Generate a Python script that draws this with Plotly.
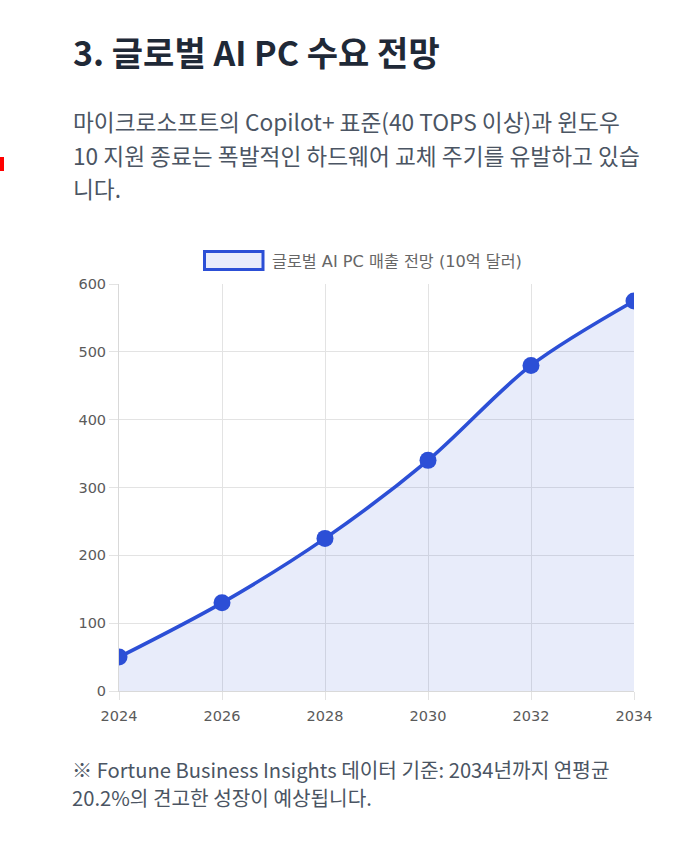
import plotly.graph_objects as go

years = [2024, 2026, 2028, 2030, 2032, 2034]
revenue = [50, 130, 225, 340, 480, 575]
y_ticks = [0, 100, 200, 300, 400, 500, 600]
series_name = "글로벌 AI PC 매출 전망 (10억 달러)"
title_text = "3. 글로벌 AI PC 수요 전망"
para_lines = [
    "마이크로소프트의 Copilot+ 표준(40 TOPS 이상)과 윈도우",
    "10 지원 종료는 폭발적인 하드웨어 교체 주기를 유발하고 있습",
    "니다.",
]
foot_lines = [
    "※ Fortune Business Insights 데이터 기준: 2034년까지 연평균",
    "20.2%의 견고한 성장이 예상됩니다.",
]

W, H = 678, 850
L, R, T, B = 119, 634, 284, 691  # plot area in pixels


def px(x):
    return (x - L) / (R - L)


def py(y):
    return (B - y) / (B - T)


LINE = "#2c4fd6"
FILL = "rgba(44,79,214,0.11)"
GRID = "#e3e3e3"
KFONT = "Noto Sans CJK KR"
TFONT = "DejaVu Sans, Noto Sans CJK KR"

fig = go.Figure()
fig.add_trace(go.Scatter(
    x=years, y=revenue, name=series_name,
    mode="lines+markers",
    line=dict(color=LINE, width=3.6, shape="spline", smoothing=0.9),
    marker=dict(color=LINE, size=17),
    fill="tozeroy", fillcolor=FILL,
    showlegend=False,
))

ann = []
ann.append(dict(text=f"<b>{title_text}</b>", x=px(71), y=py(51), xref="paper", yref="paper",
                xanchor="left", yanchor="middle", showarrow=False,
                font=dict(family=KFONT, size=34, color="#1f2937")))
for t, yy in zip(para_lines, [122, 155, 188]):
    ann.append(dict(text=t, x=px(71), y=py(yy), xref="paper", yref="paper",
                    xanchor="left", yanchor="middle", showarrow=False,
                    font=dict(family=KFONT, size=22.7, color="#4b5563")))
for t, yy in zip(foot_lines, [769, 797]):
    ann.append(dict(text=t, x=px(70), y=py(yy), xref="paper", yref="paper",
                    xanchor="left", yanchor="middle", showarrow=False,
                    font=dict(family=KFONT, size=20.2, color="#4b5563")))
ann.append(dict(text=series_name, x=px(270), y=py(261), xref="paper", yref="paper",
                xanchor="left", yanchor="middle", showarrow=False,
                font=dict(family=TFONT, size=16.2, color="#666666")))

shapes = [
    dict(type="rect", xref="paper", yref="paper",
         x0=px(204.5), x1=px(263), y0=py(269.5), y1=py(251.5),
         line=dict(color=LINE, width=3), fillcolor="#e9ecfb"),
    dict(type="rect", xref="paper", yref="paper",
         x0=px(0), x1=px(4), y0=py(171), y1=py(157),
         line=dict(width=0), fillcolor="#ff0000"),
]

fig.update_layout(
    width=W, height=H, autosize=False,
    margin=dict(l=L, r=W - R, t=T, b=H - B, pad=0),
    paper_bgcolor="white", plot_bgcolor="white",
    annotations=ann, shapes=shapes,
    showlegend=False,
    xaxis=dict(range=[2024, 2034], tickvals=years, ticktext=[str(y) for y in years],
               showgrid=True, gridcolor=GRID, gridwidth=1,
               ticks="outside", ticklen=8, tickcolor=GRID,
               ticklabelstandoff=4,
               showline=True, linecolor="#d9d9d9", linewidth=1, mirror=False,
               zeroline=False,
               tickfont=dict(family=TFONT, size=14.5, color="#5a5a5a")),
    yaxis=dict(range=[0, 600], tickvals=y_ticks,
               showgrid=True, gridcolor=GRID, gridwidth=1,
               ticks="outside", ticklen=9, tickcolor=GRID,
               showline=True, linecolor="#d9d9d9", linewidth=1,
               zeroline=False,
               tickfont=dict(family=TFONT, size=14.5, color="#5a5a5a")),
)

fig.write_html(
    "out.html",
    config={"displayModeBar": False},
    post_script="document.body.style.margin='0';document.body.style.overflow='hidden';",
)
